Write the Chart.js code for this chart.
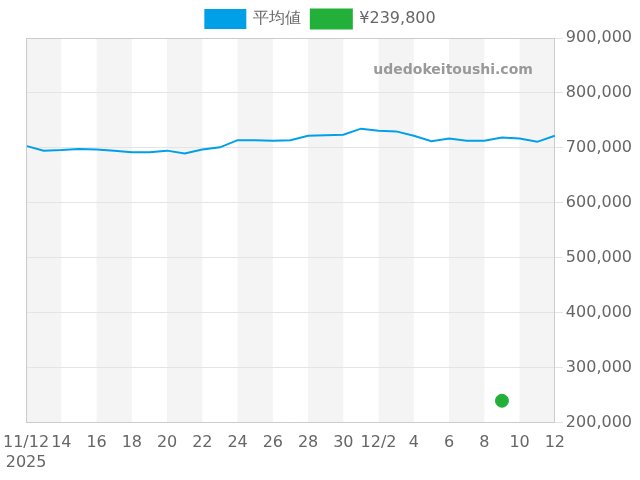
<!DOCTYPE html>
<html>
<head>
<meta charset="utf-8">
<script src="https://cdn.jsdelivr.net/npm/chart.js@4"></script>
<style>body{margin:0}#wrap{width:640px;height:480px}</style>
</head>
<body>
<div id="wrap"><canvas id="c"></canvas></div>
<script>
// days from 11/12 to 12/12
var days = ['11/12','11/13','11/14','11/15','11/16','11/17','11/18','11/19','11/20','11/21','11/22','11/23','11/24','11/25','11/26','11/27','11/28','11/29','11/30','12/1','12/2','12/3','12/4','12/5','12/6','12/7','12/8','12/9','12/10','12/11','12/12'];
var tickText = ['11/12','14','16','18','20','22','24','26','28','30','12/2','4','6','8','10','12'];
var avgPrice = [703600,695000,696000,698000,697000,695000,692000,692000,695000,690000,697000,701000,714000,714000,713000,714000,722000,723000,724000,735000,731000,730000,722000,712000,717000,713000,713000,719000,717000,711000,722000];
var listing = [null,null,null,null,null,null,null,null,null,null,null,null,null,null,null,null,null,null,null,null,null,null,null,null,null,null,null,239800,null,null,null];

var bands = {
	id: 'bands',
	beforeDraw: function(chart) {
		var ctx = chart.ctx, x = chart.scales.x, a = chart.chartArea;
		ctx.save();
		ctx.fillStyle = '#f4f4f4';
		for (var i = 0; i < days.length - 1; i += 4) {
			var x0 = x.getPixelForValue(i), x1 = x.getPixelForValue(Math.min(i + 2, days.length - 1));
			ctx.fillRect(x0, a.top, x1 - x0, a.bottom - a.top);
		}
		ctx.restore();
	},
	afterDatasetsDraw: function(chart) {
		var ctx = chart.ctx, a = chart.chartArea;
		ctx.save();
		ctx.strokeStyle = '#ccc';
		ctx.lineWidth = 1;
		ctx.beginPath();
		ctx.moveTo(a.left + 0.5, a.bottom);
		ctx.lineTo(a.left + 0.5, a.top + 0.5);
		ctx.lineTo(a.right, a.top + 0.5);
		ctx.stroke();
		ctx.font = 'bold 14px "DejaVu Sans"';
		ctx.fillStyle = '#999';
		ctx.textAlign = 'right';
		ctx.fillText('udedokeitoushi.com', a.right - 22, a.top + 32);
		ctx.restore();
	}
};

new Chart(document.getElementById('c'), {
	type: 'line',
	data: {
		labels: days,
		datasets: [
			{label: '平均値', data: avgPrice, borderColor: '#00a0e9', backgroundColor: '#00a0e9', borderWidth: 2, pointRadius: 0, tension: 0},
			{label: '¥239,800', data: listing, borderColor: '#22b03a', backgroundColor: '#22b03a', showLine: false, pointRadius: 6.5, pointHoverRadius: 6.5}
		]
	},
	options: {
		responsive: true,
		maintainAspectRatio: false,
		animation: false,
		layout: {padding: {left: 6, right: 5, top: 0, bottom: 5}},
		plugins: {
			legend: {
				labels: {boxWidth: 40, boxHeight: 18, font: {size: 16, family: 'DejaVu Sans'}, color: '#666', padding: 10}
			},
			tooltip: {enabled: false}
		},
		scales: {
			x: {
				offset: false,
				grid: {display: false},
				border: {color: '#ccc'},
				ticks: {
					autoSkip: false, maxRotation: 0, color: '#666', font: {size: 16, family: 'DejaVu Sans'},
					callback: function(v, i) {
						if (i % 2) return null;
						var t = tickText[i / 2];
						return i === 0 ? [t, '2025'] : t;
					}
				}
			},
			y: {
				position: 'right',
				min: 200000, max: 900000,
				border: {color: '#ccc'},
				grid: {color: '#e4e4e4'},
				ticks: {stepSize: 100000, color: '#666', font: {size: 16, family: 'DejaVu Sans'},
					callback: function(v) { return v.toLocaleString('en-US'); }}
			}
		}
	},
	plugins: [bands]
});
</script>
</body>
</html>
